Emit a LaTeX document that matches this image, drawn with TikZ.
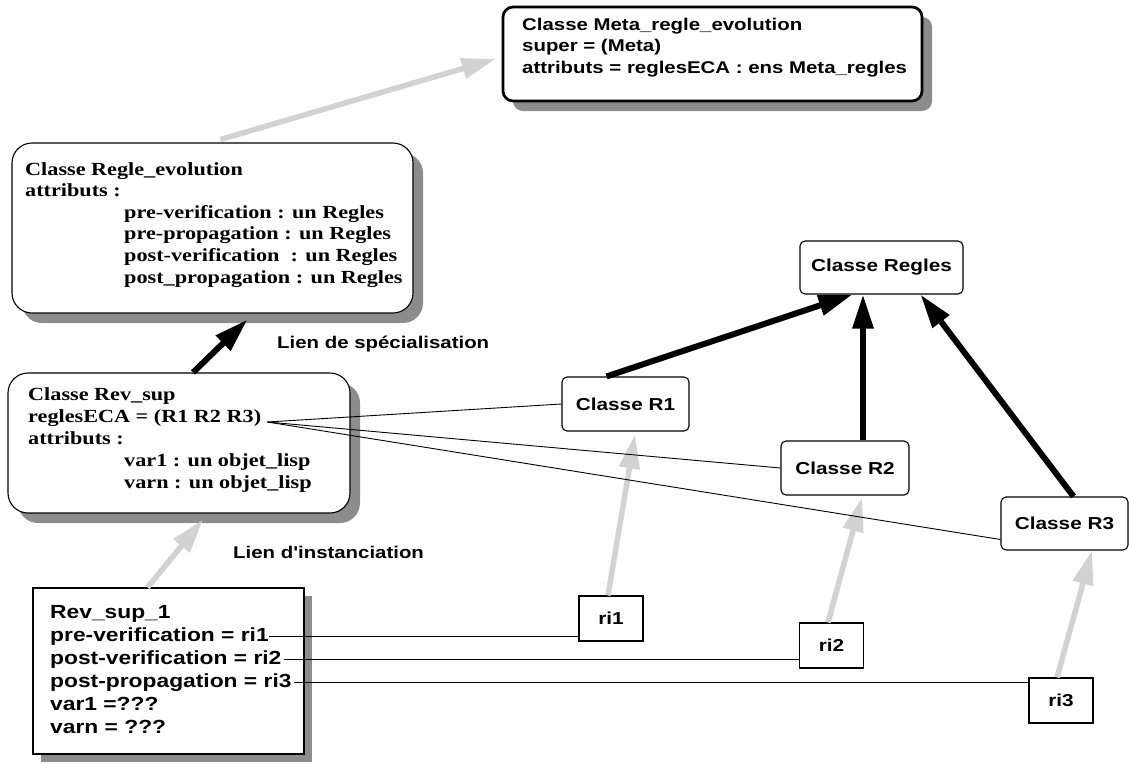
\documentclass[tikz,border=0pt]{standalone}
\usepackage{fontspec}
\usepackage{tikz}
\usetikzlibrary{arrows.meta,shadows}

\newfontfamily\arialb[FakeStretch=1.2,Ligatures=ResetAll]{Liberation Sans}
\newfontfamily\timesb[FakeStretch=1.2]{Liberation Serif}
\definecolor{lightarrow}{RGB}{210,210,210}
\definecolor{boxshadow}{RGB}{140,140,140}

\begin{document}
\begin{tikzpicture}[x=1pt,y=-1pt,
    box/.style={draw, fill=white, line width=1.1pt, inner sep=0pt},
    shadowed/.style={drop shadow={shadow xshift=10pt,shadow yshift=-10pt,fill=boxshadow,opacity=1}},
    classe/.style={box, rounded corners=5pt, minimum height=54pt, font=\arialb\bfseries\fontsize{17.3}{20}\selectfont},
    rinst/.style={box, minimum width=64pt, minimum height=45pt, font=\arialb\bfseries\fontsize{17.3}{20}\selectfont},
    serifrow/.style={anchor=base west, inner sep=0pt, font=\timesb\bfseries\fontsize{18.5}{21.6}\selectfont},
    rowtxt/.style={anchor=base west, inner sep=0pt, font=\arialb\bfseries\fontsize{19}{23}\selectfont},
    metatxt/.style={rowtxt, font=\arialb\bfseries\fontsize{17}{21}\selectfont},
    linklabel/.style={metatxt},
    spec/.style={-{Triangle[length=34pt,width=20pt]}, line width=6pt},
    instof/.style={spec, draw=lightarrow, line width=5.5pt},
    ref/.style={line width=0.9pt}
]
\useasboundingbox (0,0) rectangle (1129,763);

% boxes
\node[box, rounded corners=10pt, line width=2.7pt, minimum width=419pt, minimum height=94pt, shadowed] (meta) at (712.5,54) {};
\node[box, rounded corners=20pt, minimum width=401pt, minimum height=170pt, shadowed] (regle) at (212.5,228) {};
\node[box, rounded corners=20pt, minimum width=342pt, minimum height=140pt, shadowed] (revsup) at (179,443) {};
\node[box, minimum width=271pt, minimum height=166pt,
      drop shadow={shadow xshift=8pt,shadow yshift=-8pt,fill=boxshadow,opacity=1}] (revsup1) at (168.5,671) {};

\node[classe, minimum width=163pt, minimum height=53pt] (regles) at (881.5,267.5) {Classe Regles};
\node[classe, minimum width=127pt] (r1) at (625.5,404) {Classe R1};
\node[classe, minimum width=128pt] (r2) at (845,468) {Classe R2};
\node[classe, minimum width=127pt, minimum height=53pt] (r3) at (1064.5,523.5) {Classe R3};

\node[rinst] (ri1) at (611,618.5) {ri1};
\node[rinst] (ri2) at (831.5,645.5) {ri2};
\node[rinst] (ri3) at (1061,700.5) {ri3};

% texts
\node[metatxt] (m1) at (522,30) {Classe Meta\_regle\_evolution};
\node[metatxt] (m2) at (522,51.5) {super = (Meta)};
\node[metatxt] (m3) at (522,73) {attributs = reglesECA : ens Meta\_regles};

\node[serifrow] (rg1) at (25,175) {Classe Regle\_evolution};
\node[serifrow] (rg2) at (25,196.6) {attributs :};
\node[serifrow] (rg3) at (124,218.2) {pre-verification : un Regles};
\node[serifrow] (rg4) at (124,239.8) {pre-propagation : un Regles};
\node[serifrow] (rg5) at (124,261.4) {post-verification~ : un Regles};
\node[serifrow] (rg6) at (124,283) {post\_propagation : un Regles};

\node[serifrow] (rs1) at (28,400) {Classe Rev\_sup};
\node[serifrow] (rs2) at (28,422) {reglesECA = (R1 R2 R3)};
\node[serifrow] (rs3) at (28,444) {attributs :};
\node[serifrow] (rs4) at (124,466) {var1 : un objet\_lisp};
\node[serifrow] (rs5) at (124,488) {varn : un objet\_lisp};

\node[rowtxt] (ir0) at (50,618) {Rev\_sup\_1};
\node[rowtxt] (ir1) at (50,641) {pre-verification = ri1};
\node[rowtxt] (ir2) at (50,664) {post-verification = ri2};
\node[rowtxt] (ir3) at (50,687) {post-propagation = ri3};
\node[rowtxt] (ir4) at (50,710) {var1 =???};
\node[rowtxt] (ir5) at (50,733) {varn = ???};

\node[linklabel] (lspec) at (277,348) {Lien de spécialisation};
\node[linklabel] (linst) at (233,558) {Lien d'instanciation};

% links
\draw[instof] ([xshift=8pt,yshift=3pt]regle.north) -- ([xshift=-6pt,yshift=-5pt]meta.west);
\draw[spec] ([xshift=14pt]revsup.north) -- ([xshift=35pt,yshift=-6pt]regle.south);
\draw[instof] ([xshift=-21pt]revsup1.north) -- ([xshift=24pt,yshift=-6pt]revsup.south);

\draw[spec] ([xshift=-19pt]r1.north) -- ([xshift=-29pt]regles.south);
\draw[spec] ([xshift=18pt]r2.north) -- ([xshift=-18.5pt]regles.south);
\draw[spec] ([xshift=9pt]r3.north) -- ([xshift=39pt]regles.south);

\draw[instof] ([xshift=-3pt]ri1.north) -- ([xshift=9.5pt,yshift=-3pt]r1.south);
\draw[instof] ([xshift=-3.5pt]ri2.north) -- ([xshift=17pt,yshift=-2pt]r2.south);
\draw[instof] ([xshift=-4pt]ri3.north) -- ([xshift=27.5pt]r3.south);

\coordinate (ecaend) at ([xshift=6pt]rs2.base east);
\draw[ref] (ecaend) -- (r1.west);
\draw[ref] (ecaend) -- (r2.west);
\draw[ref] (ecaend) -- ([yshift=-16pt]r3.west);

\draw[ref] (ir1.east) -- (ir1.east -| ri1.west);
\draw[ref] ([xshift=2pt]ir2.east) -- (ir2.east -| ri2.west);
\draw[ref] ([xshift=2pt]ir3.east) -- (ir3.east -| ri3.west);
\end{tikzpicture}
\end{document}
